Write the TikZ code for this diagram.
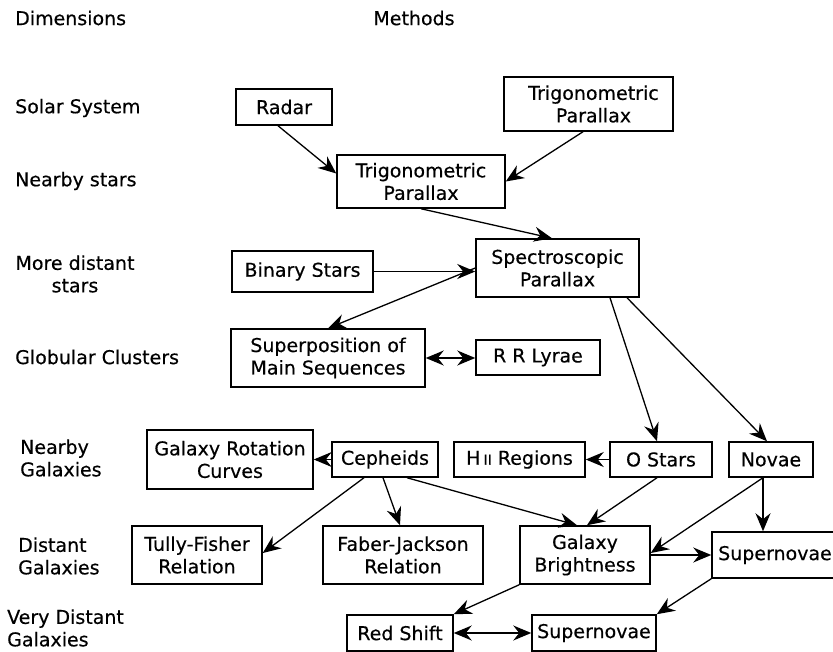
\documentclass[tikz,border=0pt]{standalone}
\usepackage{fontspec}
\setmainfont{DejaVu Sans}[FakeBold=0.4]
\usetikzlibrary{arrows.meta,calc}
\begin{document}
\begin{tikzpicture}[x=1pt,y=-1pt,
  every node/.style={font=\fontsize{19}{22.5}\selectfont, text=black},
  box/.style={draw, line width=1.5pt, inner sep=0pt, align=center},
  sz/.style 2 args={minimum width=#1pt, minimum height=#2pt},
  lbl/.style={anchor=west, inner sep=0pt, align=left},
  arr/.style={line width=1.3pt, -{Stealth[length=18pt,width=15pt,inset=6pt]}},
  darr/.style={line width=1.3pt, {Stealth[length=18pt,width=15pt,inset=6pt]}-{Stealth[length=18pt,width=15pt,inset=6pt]}}]
\useasboundingbox (0,0) rectangle (833,652);

% left column labels
\node[lbl] (dim) at (15,18) {Dimensions};
\node[inner sep=0pt] (meth) at (414,18) {Methods};
\node[lbl] (solar) at (15,108) {Solar System};
\node[lbl] (nstars) at (15,181) {Nearby stars};
\node[align=center, inner sep=0pt] (mds) at (75,274) {More distant\\stars};
\node[lbl] (glob) at (15,357) {Globular Clusters};
\node[lbl] (ngal) at (20,458) {Nearby\\Galaxies};
\node[lbl] (dgal) at (18,556) {Distant\\Galaxies};
\node[lbl] (vdgal) at (7,628) {Very Distant\\Galaxies};

% method boxes
\node[box, sz={96}{36}] (radar) at (284,107) {Radar};
\node[box, sz={168}{53}] (trig) at (421,181.5) {Trigonometric\\Parallax};
\node[box, sz={169}{54}] (ttrig) at (588.5,104) {\hspace*{10pt}Trigonometric\\\hspace*{10pt}Parallax};
\node[box, sz={163}{58}] (spec) at (557.5,268) {Spectroscopic\\Parallax};
\node[box, sz={141}{41}] (binary) at (302.5,271.5) {Binary Stars};
\node[box, sz={194}{58}] (super) at (328,358) {Superposition of\\Main Sequences};
\node[box, sz={124}{35}] (rrl) at (538,357.5) {R R Lyrae};
\node[box, sz={166}{59}] (grc) at (230,459.5) {Galaxy Rotation\\Curves};
\node[box, sz={106}{35}] (ceph) at (385,459.5) {Cepheids};
\node[box, sz={131}{35}] (hii) at (519.5,459.5) {H\,{\fontsize{14}{14}\selectfont II} Regions};
\node[box, sz={102}{35}] (ostars) at (661,459.5) {O Stars};
\node[box, sz={84}{35}] (novae) at (771,459.5) {Novae};
\node[box, sz={130}{58}] (tully) at (197,555) {Tully-Fisher\\Relation};
\node[box, sz={160}{58}] (faber) at (403,555) {Faber-Jackson\\Relation};
\node[box, sz={130}{58}] (gb) at (585,555) {Galaxy\\Brightness};
\node[box, sz={126}{46}] (snr) at (775,555) {Supernovae};
\node[box, sz={106}{36}] (redshift) at (400,633) {Red Shift};
\node[box, sz={124}{36}] (snb) at (594,633) {Supernovae};

% connectors
\draw[arr] ([xshift=-6pt]radar.south) -- ([yshift=8pt]trig.west);
\draw[arr] ([xshift=-5.5pt]ttrig.south) -- (trig.east);
\draw[arr] (trig.south) -- ([xshift=-5.5pt]spec.north);
\draw[arr] (binary.east) -- (binary.east -| spec.west);
\draw[arr] (spec.west) -- (super.north);
\draw[darr] (super.east) -- (super.east -| rrl.west);
\draw[arr] ([xshift=52.5pt]spec.south) -- ([xshift=-4pt]ostars.north);
\draw[arr] ([xshift=69.5pt]spec.south) -- ([xshift=-4pt]novae.north);
\draw[arr] (ostars.west) -- (hii.east);
\draw[arr] (ceph.west) -- (grc.east);
\draw[arr] ([xshift=-21pt]ceph.south) -- ([yshift=2pt]tully.east);
\draw[arr] ([xshift=-2pt]ceph.south) -- ([xshift=-3pt]faber.north);
\draw[arr] ([xshift=22pt]ceph.south) -- ([xshift=-8pt]gb.north);
\draw[arr] ([xshift=-4pt]ostars.south) -- ([xshift=2pt]gb.north);
\draw[arr] ([xshift=-8pt]novae.south) -- ([yshift=2pt]gb.east);
\draw[arr] ([xshift=-8pt]novae.south) coordinate (nv) -- (nv |- snr.north);
\draw[arr] (gb.east) -- (snr.west);
\draw[arr] (gb.south west) -- (redshift.north east);
\draw[arr] (snr.south west) -- (snb.north east);
\draw[darr] (redshift.east) -- (snb.west);
\end{tikzpicture}
\end{document}
